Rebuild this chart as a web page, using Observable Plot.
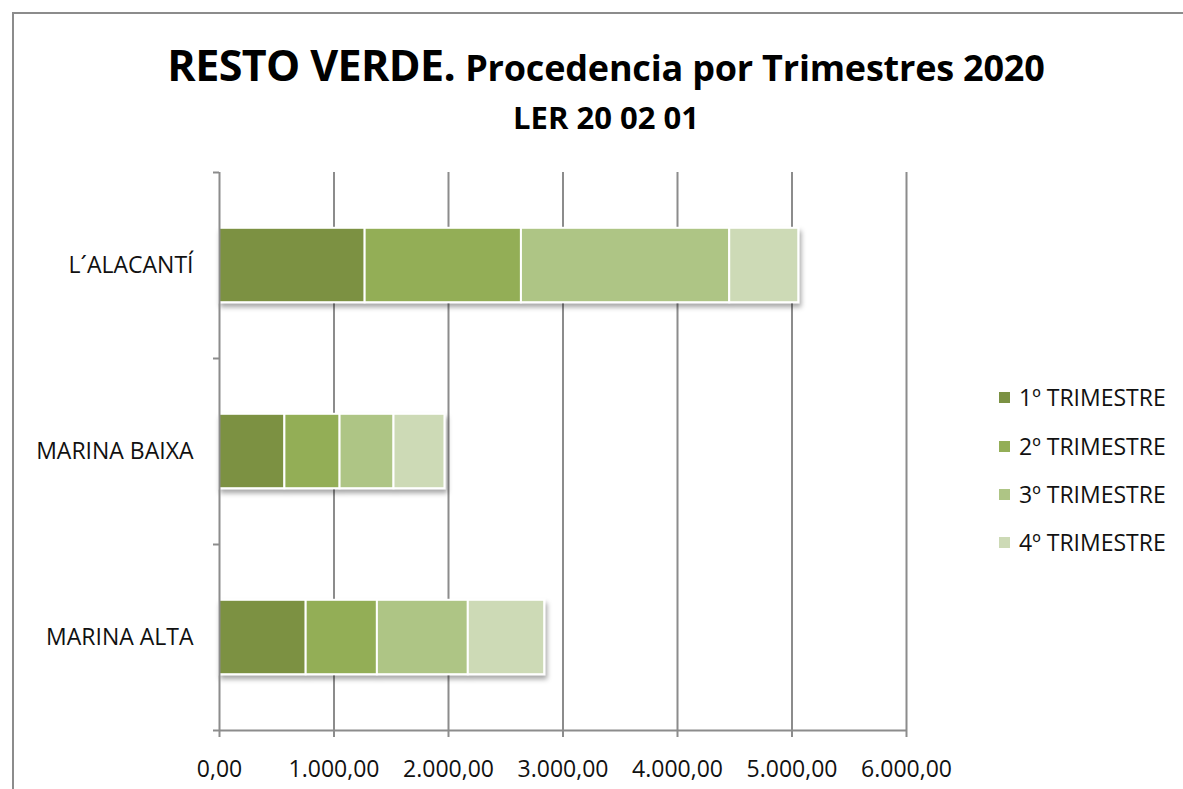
<!DOCTYPE html>
<html>
<head>
<meta charset="utf-8">
<script src="https://cdn.jsdelivr.net/npm/d3@7"></script>
<script src="https://cdn.jsdelivr.net/npm/@observablehq/plot@0.6"></script>
<style>
  html, body { margin: 0; padding: 0; background: #fff; }
  body { width: 1183px; height: 789px; position: relative; overflow: hidden; font-family: "Open Sans", sans-serif; }
  #frame { position: absolute; left: 12px; top: 12px; width: 1300px; height: 900px; border-top: 2px solid #8c8c8c; border-left: 2px solid #8c8c8c; }
  #title { position: absolute; left: 0; top: 41px; width: 1212px; text-align: center; font-weight: 700; color: #000; line-height: 48px; white-space: nowrap; }
  #title .big { font-size: 43px; letter-spacing: -0.6px; }
  #title .small { font-size: 36px; letter-spacing: -0.2px; margin-left: 10px; }
  #subtitle { position: absolute; left: 0; top: 102px; width: 1212px; text-align: center; font-weight: 700; font-size: 31px; line-height: 31px; color: #000; }
  #chart { position: absolute; left: 0; top: 150px; }
  #legend { position: absolute; left: 999px; top: 0; }
  .item { position: absolute; left: 0; height: 30px; display: flex; align-items: center; white-space: nowrap; font-size: 23px; color: #111; }
  .sw { width: 11px; height: 11px; margin-right: 9px; }
</style>
</head>
<body>
<div id="frame"></div>
<div id="title"><span class="big">RESTO VERDE.</span><span class="small">Procedencia por Trimestres 2020</span></div>
<div id="subtitle">LER 20 02 01</div>
<div id="chart"></div>
<div id="legend"></div>
<script>
// Data (bottom to top, as in the original chart)
const categories = ["MARINA ALTA", "MARINA BAIXA", "L´ALACANTÍ"];
const series = ["1º TRIMESTRE", "2º TRIMESTRE", "3º TRIMESTRE", "4º TRIMESTRE"];
const q1 = [757, 571, 1272];
const q2 = [622, 482, 1365];
const q3 = [794, 471, 1819];
const q4 = [667, 445, 603];
const xTicks = [0, 1000, 2000, 3000, 4000, 5000, 6000];
const colors = ["#7b9143", "#93ae57", "#aec585", "#cddab6"];

const values = [q1, q2, q3, q4];
const rows = [];
categories.forEach((c, i) => {
  let acc = 0;
  values.forEach((arr, s) => {
    rows.push({cat: c, idx: i, serie: series[s], x1: acc, x2: acc + arr[i]});
    acc += arr[i];
  });
});

const es = d3.formatLocale({decimal: ",", thousands: ".", grouping: [3], currency: ["", "€"]});
const fmt = es.format(",.2f");

const gray = "#8c8c8c";
const chart = Plot.plot({
  width: 960,
  height: 640,
  marginLeft: 219,
  marginRight: 54,
  marginTop: 22,
  marginBottom: 60,
  style: {fontFamily: "'Open Sans', sans-serif", background: "transparent", color: "#111"},
  x: {domain: [0, 6000]},
  y: {domain: [0, categories.length]},
  color: {domain: series, range: colors},
  marks: [
    Plot.gridX(xTicks.slice(1), {stroke: gray, strokeOpacity: 1, strokeWidth: 2}),
    Plot.rect(rows, {
      x1: "x1", x2: "x2",
      y1: d => d.idx + 0.3, y2: d => d.idx + 0.7,
      fill: "serie", stroke: "#fff", strokeWidth: 2
    }),
    Plot.ruleX([0], {stroke: gray, strokeWidth: 2}),
    Plot.ruleY([0], {stroke: gray, strokeWidth: 2}),
    Plot.axisX({ticks: xTicks, tickFormat: fmt, tickSize: 7, tickPadding: 23, fontSize: 23, stroke: gray, strokeWidth: 2, label: null}),
    Plot.axisY({ticks: d3.range(categories.length + 1), tickFormat: () => "", tickSize: 6, stroke: gray, strokeWidth: 2, label: null}),
    Plot.axisY({ticks: categories.map((c, i) => i + 0.5), tickFormat: v => categories[Math.floor(v)], tickSize: 0, tickPadding: 26, fontSize: 23, label: null})
  ]
});
document.getElementById("chart").appendChild(chart);

// drop shadow for the bars
const svg = d3.select(chart);
const defs = svg.insert("defs", ":first-child");
const f = defs.append("filter").attr("id", "shadow").attr("x", "-5%").attr("y", "-20%").attr("width", "110%").attr("height", "150%");
f.append("feDropShadow").attr("dx", 2).attr("dy", 4).attr("stdDeviation", 2.5).attr("flood-color", "#000").attr("flood-opacity", 0.35);
svg.selectAll('g[aria-label="rect"]').attr("filter", "url(#shadow)");

// legend
const legendTops = [397, 446, 494, 542];
const legend = document.getElementById("legend");
series.forEach((s, i) => {
  const it = document.createElement("div");
  it.className = "item";
  it.style.top = (legendTops[i] - 15) + "px";
  it.innerHTML = `<div class="sw" style="background:${colors[i]}"></div><span>${s}</span>`;
  legend.appendChild(it);
});
</script>
</body>
</html>
